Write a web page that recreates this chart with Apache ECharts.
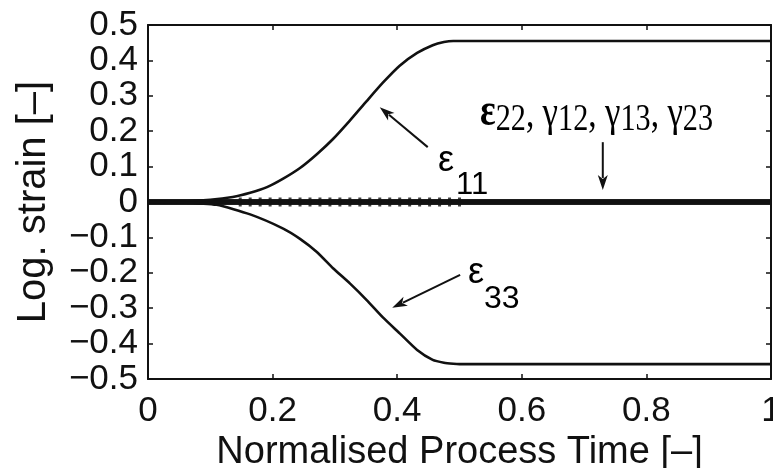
<!DOCTYPE html>
<html>
<head>
<meta charset="utf-8">
<script src="https://cdn.jsdelivr.net/npm/echarts@6/dist/echarts.min.js"></script>
<style>html,body{margin:0;padding:0;background:#fff;}#c{width:773px;height:468px;}</style>
</head>
<body>
<div id="c"></div>
<script>
// ---- data ----
var xTicks = [0, 0.2, 0.4, 0.6, 0.8, 1];
var yTicks = [-0.5, -0.4, -0.3, -0.2, -0.1, 0, 0.1, 0.2, 0.3, 0.4, 0.5];
var t11 = [0, 0.05, 0.1, 0.136, 0.164, 0.191, 0.217, 0.244, 0.271, 0.297, 0.324, 0.351, 0.377, 0.404, 0.432, 0.457, 0.475, 0.49, 0.5, 1];
var e11 = [0, 0.001, 0.006, 0.014, 0.026, 0.042, 0.066, 0.096, 0.135, 0.178, 0.230, 0.285, 0.337, 0.385, 0.421, 0.443, 0.452, 0.455, 0.455, 0.455];
var t33 = [0, 0.05, 0.11, 0.164, 0.217, 0.244, 0.271, 0.297, 0.324, 0.351, 0.377, 0.404, 0.432, 0.457, 0.475, 0.49, 0.5, 1];
var e33 = [0, -0.001, -0.008, -0.035, -0.075, -0.104, -0.141, -0.187, -0.230, -0.277, -0.326, -0.371, -0.418, -0.446, -0.454, -0.457, -0.458, -0.458];
var tZero = [0, 0.25, 0.5, 0.75, 1];
var e22 = [0, 0, 0, 0, 0];
var g12 = [0, 0, 0, 0, 0];
var g13 = [0, 0, 0, 0, 0];
var g23 = [0, 0, 0, 0, 0];
// small oscillation bumps visible on the zero lines
var tBumps = [0.148, 0.164, 0.18, 0.196, 0.212, 0.228, 0.244, 0.26, 0.276, 0.292, 0.308, 0.324, 0.34, 0.356, 0.372, 0.388, 0.404, 0.42, 0.436, 0.452, 0.468, 0.484, 0.5];
var vBumps = [0, 0, 0, 0, 0, 0, 0, 0, 0, 0, 0, 0, 0, 0, 0, 0, 0, 0, 0, 0, 0, 0, 0];
// annotation anchors (data coordinates)
var arrow11 = [[0.449, 0.155], [0.372, 0.268]];
var arrow33 = [[0.501, -0.206], [0.392, -0.299]];
var arrowShear = [[0.730, 0.169], [0.730, 0.034]];
var lab11Pos = [0.4655, 0.082];     // baseline-left of the epsilon
var lab33Pos = [0.5136, -0.2345];
var labShearPos = [0.533, 0.206];

function pairs(xs, ys) { return xs.map(function (x, i) { return [x, ys[i]]; }); }
function fmt(v) {
  if (Math.abs(v) < 1e-9) return '0';
  var s = (Math.round(v * 10) / 10).toString();
  return s.replace('-', '\u2212');
}

var chart = echarts.init(document.getElementById('c'), null, {renderer: 'canvas'});
var sans = '"Liberation Sans", Arial, Helvetica, sans-serif';
var serif = '"Liberation Serif", "Times New Roman", serif';
var axisCommon = {
  axisLine: {show: true, onZero: false, lineStyle: {color: '#111', width: 2}},
  axisTick: {show: true, inside: true, length: 5, lineStyle: {color: '#111', width: 1.5}},
  splitLine: {show: false}
};
function lineSeries(name, data, w) {
  return {
    name: name, type: 'line', data: data, showSymbol: false, smooth: 0.2,
    lineStyle: {color: '#111', width: w}, z: 3, animation: false
  };
}

var option = {
  backgroundColor: '#ffffff',
  animation: false,
  grid: {left: 148, top: 25, right: 2, bottom: 89, show: false, containLabel: false, outerBoundsMode: 'none'},
  xAxis: [Object.assign({
    type: 'value', min: 0, max: 1, interval: 0.2, position: 'bottom',
    name: 'Normalised Process Time [\u2013]', nameLocation: 'middle', nameGap: 52,
    nameTextStyle: {fontFamily: sans, fontSize: 38, color: '#111'},
    axisLabel: {fontFamily: sans, fontSize: 35, color: '#111', margin: 15, formatter: fmt,
      showMinLabel: true, showMaxLabel: true, hideOverlap: false, interval: 0}
  }, axisCommon), Object.assign({
    type: 'value', min: 0, max: 1, interval: 0.2, position: 'top', axisLabel: {show: false}
  }, axisCommon)],
  yAxis: [Object.assign({
    type: 'value', min: -0.5, max: 0.5, interval: 0.1, position: 'left',
    name: 'Log. strain [\u2013]', nameLocation: 'middle', nameGap: 94, nameRotate: 90,
    nameTextStyle: {fontFamily: sans, fontSize: 40, color: '#111'},
    axisLabel: {fontFamily: sans, fontSize: 35, color: '#111', margin: 10, formatter: fmt,
      showMinLabel: true, showMaxLabel: true, hideOverlap: false, interval: 0}
  }, axisCommon), Object.assign({
    type: 'value', min: -0.5, max: 0.5, interval: 0.1, position: 'right', axisLabel: {show: false}
  }, axisCommon)],
  series: [
    lineSeries('e22', pairs(tZero, e22), 5),
    lineSeries('g12', pairs(tZero, g12), 5),
    lineSeries('g13', pairs(tZero, g13), 5),
    lineSeries('g23', pairs(tZero, g23), 5),
    {type: 'scatter', data: pairs(tBumps, vBumps), symbol: 'rect', symbolSize: [3, 9],
      itemStyle: {color: '#111'}, z: 4, silent: true, animation: false},
    lineSeries('e11', pairs(t11, e11), 2.6),
    lineSeries('e33', pairs(t33, e33), 2.6)
  ]
};
chart.setOption(option);

function px(p) { return chart.convertToPixel({gridIndex: 0}, p); }
var mctx = document.createElement('canvas').getContext('2d');
function fontStr(f) { return (f[2] || 'normal') + ' ' + f[1] + 'px ' + f[3]; }
function measure(text, font) { mctx.font = font; return mctx.measureText(text).width; }

// draw fragments on a common baseline (frag: [text, fontSize, weight, family, dy, dxBefore])
function fragments(left, baseline, frags, scaleX) {
  var children = [];
  var x = 0;
  frags.forEach(function (f) {
    x += (f[5] || 0);
    children.push({type: 'text', x: x, y: (f[4] || 0) - 0.34 * f[1], style: {
      text: f[0], fontSize: f[1], fontWeight: f[2] || 'normal', fontFamily: f[3],
      fill: '#000', align: 'left', verticalAlign: 'middle'}});
    x += measure(f[0], fontStr(f));
  });
  return {type: 'group', x: left, y: baseline, scaleX: scaleX || 1, z: 10, children: children};
}
function fragWidth(frags) {
  var w = 0;
  frags.forEach(function (f) { w += (f[5] || 0) + measure(f[0], fontStr(f)); });
  return w;
}
function arrow(seg) {
  var a = px(seg[0]), b = px(seg[1]);
  var dx = b[0] - a[0], dy = b[1] - a[1], L = Math.sqrt(dx * dx + dy * dy);
  var ux = dx / L, uy = dy / L, hl = 15, hw = 5;
  var bx = b[0] - ux * hl, by = b[1] - uy * hl;
  return [
    {type: 'line', z: 10, shape: {x1: a[0], y1: a[1], x2: bx + ux * 3, y2: by + uy * 3}, style: {stroke: '#111', lineWidth: 2}},
    {type: 'polygon', z: 10, shape: {points: [[b[0], b[1]], [bx - uy * hw, by + ux * hw], [bx + ux * 4, by + uy * 4], [bx + uy * hw, by - ux * hw]]}, style: {fill: '#111'}}
  ];
}

var p11 = px(lab11Pos), p33 = px(lab33Pos), pS = px(labShearPos);
var shearFrags = [
  ['\u03b5', 46, 'bold', serif, 0], ['22', 38, 'normal', serif, 4], [', ', 42, 'normal', serif, 0],
  ['\u03b3', 44, 'normal', serif, 0], ['12', 38, 'normal', serif, 4], [', ', 42, 'normal', serif, 0],
  ['\u03b3', 44, 'normal', serif, 0], ['13', 38, 'normal', serif, 4], [', ', 42, 'normal', serif, 0],
  ['\u03b3', 44, 'normal', serif, 0], ['23', 38, 'normal', serif, 4]
];
var graphics = [
  fragments(p11[0], p11[1], [['\u03b5', 36, 'normal', sans, 0], ['11', 31, 'normal', sans, 23, 2]], 1),
  fragments(p33[0], p33[1], [['\u03b5', 36, 'normal', sans, 0], ['33', 32, 'normal', sans, 25, 0]], 1),
  fragments(pS[0], pS[1], shearFrags, 233 / fragWidth(shearFrags))
].concat(arrow(arrow11), arrow(arrow33), arrow(arrowShear));
chart.setOption({graphic: graphics});
</script>
</body>
</html>
